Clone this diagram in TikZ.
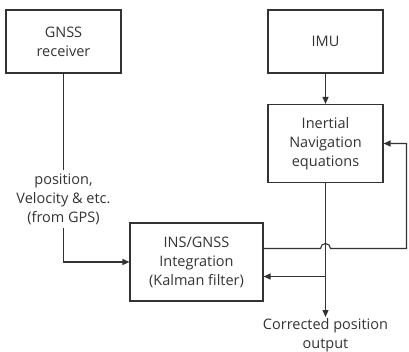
\documentclass[tikz,border=0pt]{standalone}
\usepackage{fontspec}
\setmainfont{Open Sans}
\usetikzlibrary{arrows.meta}
\definecolor{ink}{HTML}{333333}

\begin{document}
\begin{tikzpicture}[x=1pt,y=-1pt,
    font=\fontsize{14.5}{19}\selectfont,
    every node/.style={text=ink, align=center},
    box/.style={draw=ink, line width=1.1pt, minimum width=115pt, minimum height=63pt, inner sep=0pt},
    conn/.style={draw=ink, line width=1.1pt},
    arr/.style={conn, -{Triangle[length=7pt,width=6pt]}}]
    \useasboundingbox (0,0) rectangle (409,352);

    % blocks
    \node[box] (gnss) at (63.5,41.5) {GNSS\\receiver};
    \node[box] (imu) at (325.5,41.5) {IMU};
    \node[box, minimum height=78pt] (ins) at (325.5,143.5) {Inertial\\Navigation\\equations};
    \node[box, minimum width=133pt, minimum height=78pt] (kf) at (196.5,262) {INS/GNSS\\Integration\\(Kalman filter)};

    % labels
    \node[inner sep=3pt] (gps) at (63.5,199) {position,\\Velocity \& etc.\\(from GPS)};
    \node[anchor=north, inner sep=1pt] (out) at (325.5,317) {Corrected position\\output};

    % signal flow
    \draw[arr] (imu) -- (ins);
    \draw[conn] (gnss) -- (gps);
    \draw[arr] (gps) |- (kf);
    \draw[arr] (ins) -- (out);
    \coordinate (tap) at (325.5,276.5);
    \draw[arr] (tap) -- (kf.east |- tap);

    % feedback loop, hopping over the output line
    \coordinate (fb) at (406.5,248.5);
    \draw[arr] (kf.east |- fb) -- (320.5,248.5) arc(180:360:5) -- (fb) |- (ins.east);
\end{tikzpicture}
\end{document}
